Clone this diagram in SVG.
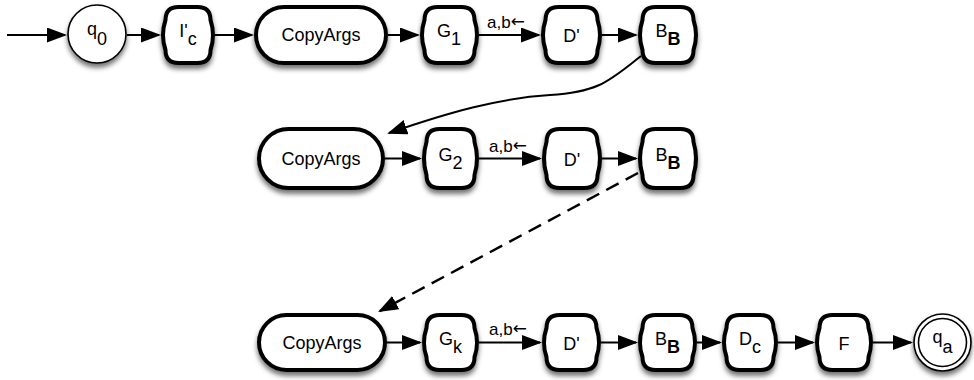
<svg xmlns="http://www.w3.org/2000/svg" width="974" height="380" viewBox="0 0 974 380">
  <style>
    .box { fill: #fff; stroke: #000; stroke-width: 4; filter: url(#sh); }
    .state { fill: #fff; stroke: #000; stroke-width: 1.6; }
    .ring { fill: none; stroke: #000; stroke-width: 1.6; }
    .lbl { font-family: "Liberation Sans", Arial, sans-serif; font-size: 18px; fill: #000; text-anchor: middle; }
    .elbl { font-family: "Liberation Sans", Arial, sans-serif; font-size: 17px; fill: #000; }
    .arr { font-family: "DejaVu Sans", sans-serif; font-size: 17px; }
    .edge { fill: none; stroke: #000; stroke-width: 2; marker-end: url(#ah); }
    .dash { stroke-width: 2.5; stroke-dasharray: 14 8; }
    .b { font-weight: bold; }
  </style>
  <defs>
    <filter id="sh" x="-30%" y="-30%" width="160%" height="170%">
      <feDropShadow dx="0" dy="4" stdDeviation="2.8" flood-color="#000" flood-opacity="0.55"/>
    </filter>
    <marker id="ah" viewBox="0 0 20 15" refX="18" refY="7.5" markerWidth="20" markerHeight="15" markerUnits="userSpaceOnUse" orient="auto">
      <path d="M0,0 L20,7.5 L0,15 Z" fill="#000"/>
    </marker>
  </defs>

  <!-- connectors -->
  <g id="connectors">
    <!-- row 1 -->
    <path class="edge" d="M7,35 H65"/>
    <path class="edge" d="M127,35 H159"/>
    <path class="edge" d="M215,35 H252"/>
    <path class="edge" d="M388,35 H418"/>
    <path class="edge" d="M479,35 H539"/>
    <path class="edge" d="M602,35 H636"/>
    <text class="elbl" x="487" y="28">a,b<tspan class="arr" dy="-1">←</tspan></text>
    <!-- row 1 to row 2 -->
    <path class="edge" d="M641,56 C610,80 600,92 550,95 C500,98 450,112 389,133"/>
    <!-- row 2 -->
    <path class="edge" d="M385,158.5 H420"/>
    <path class="edge" d="M479,158.5 H540"/>
    <path class="edge" d="M602,158.5 H636"/>
    <text class="elbl" x="489" y="152">a,b<tspan class="arr" dy="-1">←</tspan></text>
    <!-- row 2 to row 3 -->
    <path class="edge dash" d="M638,173 L379.8,311.1"/>
    <!-- row 3 -->
    <path class="edge" d="M387,342.5 H420"/>
    <path class="edge" d="M479,342.5 H540"/>
    <path class="edge" d="M601,342.5 H636"/>
    <path class="edge" d="M697,342.5 H720"/>
    <path class="edge" d="M778,342.5 H813"/>
    <path class="edge" d="M873,342.5 H911"/>
    <text class="elbl" x="489" y="335">a,b<tspan class="arr" dy="-1">←</tspan></text>
  </g>

  <!-- row 1 -->
  <g id="q0">
    <circle class="state" cx="97" cy="34" r="29" filter="url(#sh)"/>
    <text class="lbl" x="97" y="35">q<tspan dy="10">0</tspan></text>
  </g>
  <g id="Ic">
    <path class="box" d="M178.5,7 H197.5 Q210.5,7 210.5,20 Q215.5,35 210.5,50 Q210.5,63 197.5,63 H178.5 Q165.5,63 165.5,50 Q160.5,35 165.5,20 Q165.5,7 178.5,7 Z"/>
    <text class="lbl" x="188" y="37">I'<tspan dy="8">c</tspan></text>
  </g>
  <g id="copy1">
    <rect class="box" x="256" y="7" width="130" height="56" rx="28"/>
    <text class="lbl" x="321" y="41">CopyArgs</text>
  </g>
  <g id="G1">
    <path class="box" d="M437.5,7 H461.5 Q474.5,7 474.5,20 Q479.5,35 474.5,50 Q474.5,63 461.5,63 H437.5 Q424.5,63 424.5,50 Q419.5,35 424.5,20 Q424.5,7 437.5,7 Z"/>
    <text class="lbl" x="449" y="37">G<tspan dy="8">1</tspan></text>
  </g>
  <g id="D1">
    <path class="box" d="M558.5,7 H584.5 Q597.5,7 597.5,20 Q602.5,35 597.5,50 Q597.5,63 584.5,63 H558.5 Q545.5,63 545.5,50 Q540.5,35 545.5,20 Q545.5,7 558.5,7 Z"/>
    <text class="lbl" x="571.5" y="42">D'</text>
  </g>
  <g id="B1">
    <path class="box" d="M655.5,7 H680.5 Q693.5,7 693.5,20 Q698.5,35 693.5,50 Q693.5,63 680.5,63 H655.5 Q642.5,63 642.5,50 Q637.5,35 642.5,20 Q642.5,7 655.5,7 Z"/>
    <text class="lbl" x="668" y="37">B<tspan class="b" dy="8">B</tspan></text>
  </g>

  <!-- row 2 -->
  <g id="copy2">
    <rect class="box" x="259" y="129" width="124" height="59" rx="29.5"/>
    <text class="lbl" x="321" y="164.5">CopyArgs</text>
  </g>
  <g id="G2">
    <path class="box" d="M439.5,129 H461.5 Q474.5,129 474.5,142 Q479.5,158.5 474.5,175 Q474.5,188 461.5,188 H439.5 Q426.5,188 426.5,175 Q421.5,158.5 426.5,142 Q426.5,129 439.5,129 Z"/>
    <text class="lbl" x="450.5" y="160.5">G<tspan dy="8">2</tspan></text>
  </g>
  <g id="D2">
    <path class="box" d="M559.5,129 H584.5 Q597.5,129 597.5,142 Q602.5,158.5 597.5,175 Q597.5,188 584.5,188 H559.5 Q546.5,188 546.5,175 Q541.5,158.5 546.5,142 Q546.5,129 559.5,129 Z"/>
    <text class="lbl" x="572" y="165.5">D'</text>
  </g>
  <g id="B2">
    <path class="box" d="M655.5,129 H680.5 Q693.5,129 693.5,142 Q698.5,158.5 693.5,175 Q693.5,188 680.5,188 H655.5 Q642.5,188 642.5,175 Q637.5,158.5 642.5,142 Q642.5,129 655.5,129 Z"/>
    <text class="lbl" x="668" y="160.5">B<tspan class="b" dy="8">B</tspan></text>
  </g>

  <!-- row 3 -->
  <g id="copy3">
    <rect class="box" x="259" y="315" width="126" height="55" rx="27.5"/>
    <text class="lbl" x="322" y="348.5">CopyArgs</text>
  </g>
  <g id="Gk">
    <path class="box" d="M439.5,315 H461.5 Q474.5,315 474.5,328 Q479.5,342.5 474.5,357 Q474.5,370 461.5,370 H439.5 Q426.5,370 426.5,357 Q421.5,342.5 426.5,328 Q426.5,315 439.5,315 Z"/>
    <text class="lbl" x="450.5" y="344.5">G<tspan dy="8">k</tspan></text>
  </g>
  <g id="D3">
    <path class="box" d="M559.5,315 H583.5 Q596.5,315 596.5,328 Q601.5,342.5 596.5,357 Q596.5,370 583.5,370 H559.5 Q546.5,370 546.5,357 Q541.5,342.5 546.5,328 Q546.5,315 559.5,315 Z"/>
    <text class="lbl" x="571.5" y="349.5">D'</text>
  </g>
  <g id="B3">
    <path class="box" d="M655.5,315 H679.5 Q692.5,315 692.5,328 Q697.5,342.5 692.5,357 Q692.5,370 679.5,370 H655.5 Q642.5,370 642.5,357 Q637.5,342.5 642.5,328 Q642.5,315 655.5,315 Z"/>
    <text class="lbl" x="667.5" y="344.5">B<tspan class="b" dy="8">B</tspan></text>
  </g>
  <g id="Dc">
    <path class="box" d="M739.5,315 H760.5 Q773.5,315 773.5,328 Q778.5,342.5 773.5,357 Q773.5,370 760.5,370 H739.5 Q726.5,370 726.5,357 Q721.5,342.5 726.5,328 Q726.5,315 739.5,315 Z"/>
    <text class="lbl" x="750" y="344.5">D<tspan dy="8">c</tspan></text>
  </g>
  <g id="F">
    <path class="box" d="M832.5,315 H855.5 Q868.5,315 868.5,328 Q873.5,342.5 868.5,357 Q868.5,370 855.5,370 H832.5 Q819.5,370 819.5,357 Q814.5,342.5 819.5,328 Q819.5,315 832.5,315 Z"/>
    <text class="lbl" x="844" y="349.5">F</text>
  </g>
  <g id="qa">
    <circle class="state" cx="942.5" cy="342.5" r="28.5" filter="url(#sh)"/>
    <circle class="ring" cx="942.5" cy="342.5" r="24"/>
    <text class="lbl" x="942.5" y="343">q<tspan dy="10">a</tspan></text>
  </g>
</svg>
